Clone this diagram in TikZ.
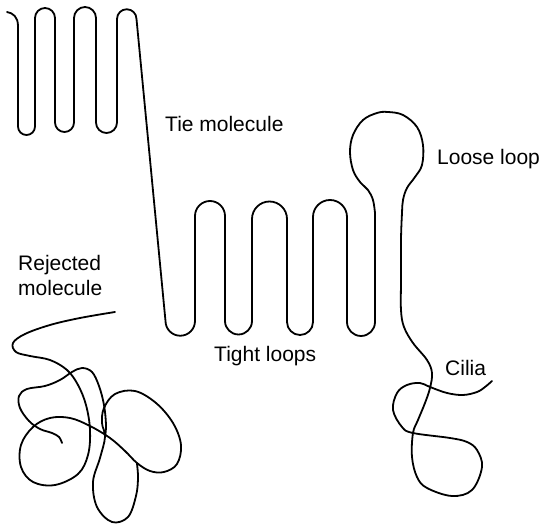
\documentclass[tikz,border=0pt]{standalone}
\usepackage{fontspec}
\setmainfont{Liberation Sans}
\begin{document}
\begin{tikzpicture}[x=1pt,y=1pt,yscale=-1,
  chain/.style={line width=1.8pt,line join=round,line cap=round},
  label/.style={font=\fontsize{21}{25}\selectfont,inner sep=0pt,align=left}]
\useasboundingbox (0,0) rectangle (542,526);

% folded crystal stem, tie molecule and tight loops, loose loop and cilia
\draw[chain] (7,12) .. controls (13,13) and (18,17) .. (18,26)
  -- (18,126.5) arc(180:0:8.5)
  -- (35,18) arc(180:360:10)
  -- (55,122.5) arc(180:0:9.5)
  -- (74,18) arc(180:360:11)
  -- (96,122.5) arc(180:0:10.5)
  -- (117,19) arc(180:360:9.75)
  -- (165.5,321) arc(180:0:14.75)
  -- (195,216) arc(180:360:15)
  -- (225,321) arc(180:0:13.5)
  -- (252,219) arc(180:360:17.5)
  -- (287,322) arc(180:0:13)
  -- (313,217) arc(180:360:17)
  -- (347,322) arc(180:0:14)
  -- (375,225)
  -- plot[smooth,tension=0.6] coordinates {
    (375,213) (373,200) (368,190) (360,182) (353,170) (350,152) (353,135)
    (363,120) (377,113) (388,112) (403,115) (417,127) (423,145) (422,165)
    (415,177) (407,188) (403,200) (402,213) (401,240) (401,280) (401,310)
    (404,327) (413,343) (427,360) (432,373) (430,388) (425,403) (418,420)
    (413,433) (412,457) (417,477) (427,488) (452,496) (472,490) (482,467)
    (477,450) (467,442) (450,438) (413,433) (402,427) (393,410) (397,393)
    (407,385) (420,383) (430,387) (447,393) (463,395) (477,392) (485,387)
    (492,381)};

% rejected molecule
\draw[chain] plot[smooth,tension=0.6] coordinates {
  (115,312) (80,318) (50,325) (25,334) (13,343) (16,352) (30,356) (50,360)
  (67,370) (78,385) (86,405) (90,430) (88,455) (78,474) (55,485) (33,482)
  (21,467) (21,445) (33,427) (50,418) (70,418) (90,426) (110,438) (125,451)
  (137,463) (150,471) (164,472) (177,464) (181,445) (173,423) (156,403)
  (135,391) (115,394) (104,408) (102,423) (105,437) (100,458) (93,482)
  (97,507) (112,522) (128,517) (136,496) (138,478) (137,464)};
\draw[chain] plot[smooth,tension=0.6] coordinates {
  (62,443) (59,437) (52,433) (40,429) (29,421) (20,408) (19,396) (27,389)
  (45,386) (60,380) (72,372) (82,368) (92,372) (99,386) (104,405) (106,425)
  (105,437)};

% labels
\node[label,anchor=base west] (tie) at (165,132) {Tie molecule};
\node[label,anchor=base west] (loose) at (437,165) {Loose loop};
\node[label,anchor=base west] (tight) at (214,362) {Tight loops};
\node[label,anchor=west] (rej) at (18,275) {Rejected\\molecule};
\node[label,anchor=base west] (cilia) at (445,376) {Cilia};
\end{tikzpicture}
\end{document}
